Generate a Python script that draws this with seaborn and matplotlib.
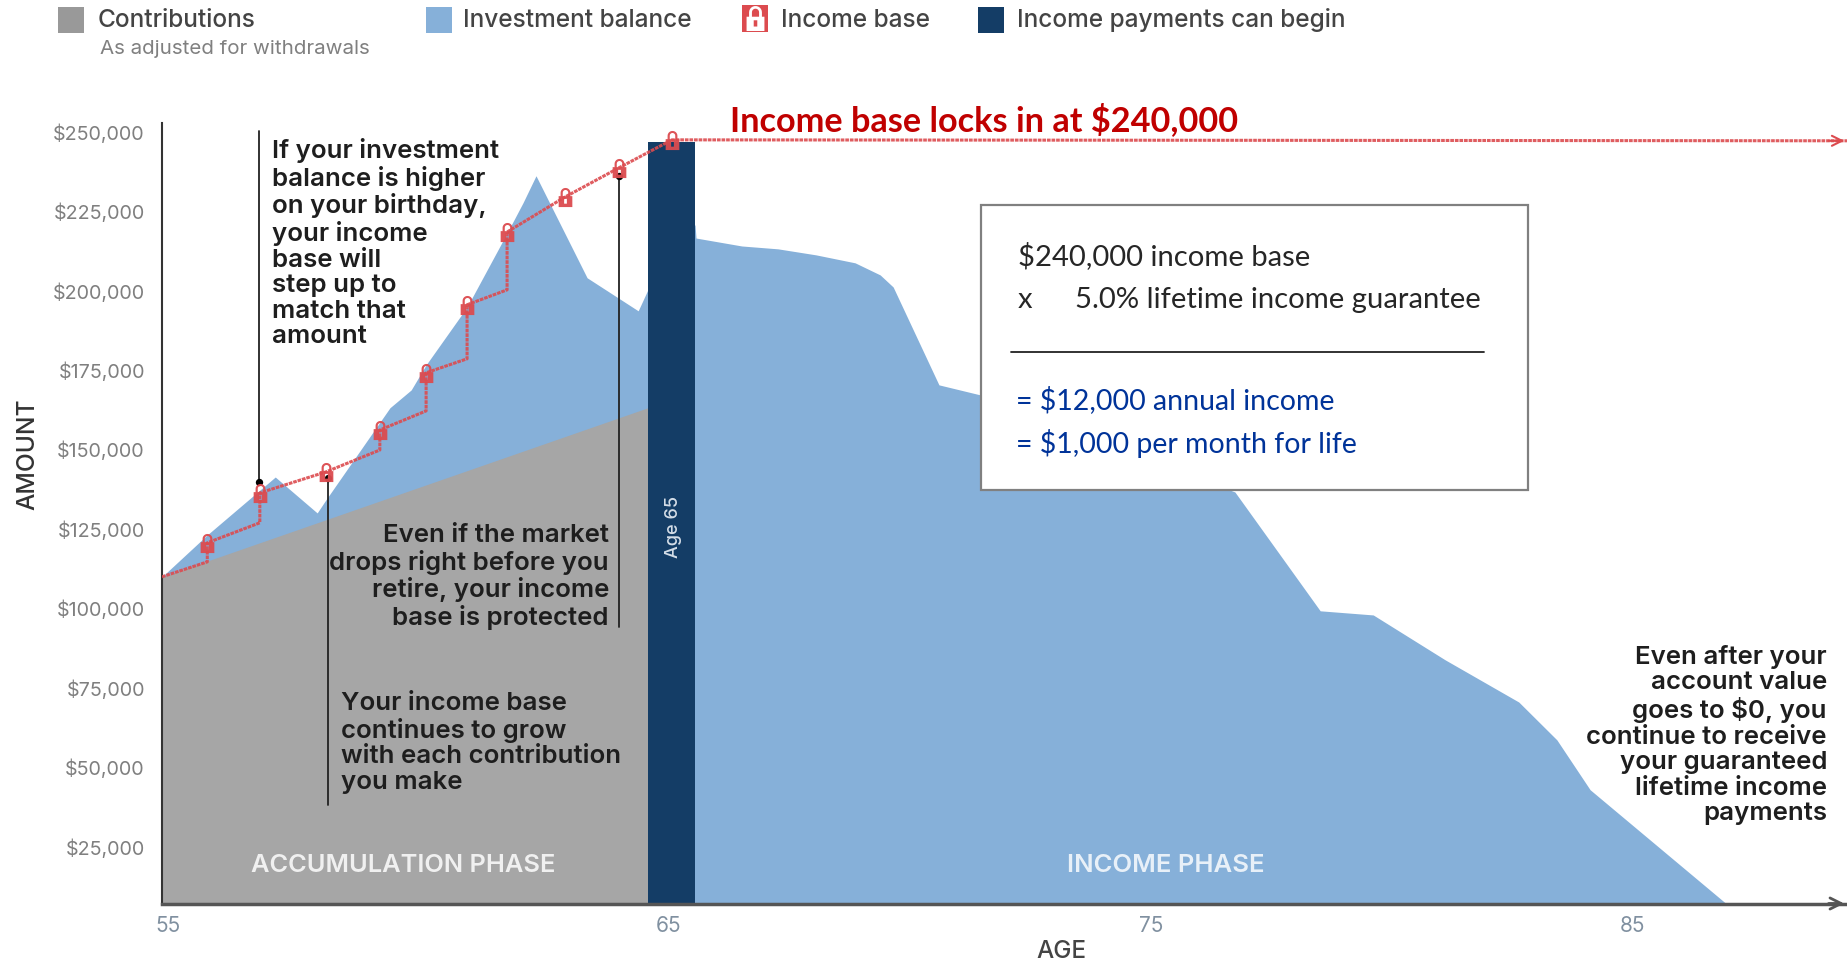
import numpy as np
import pandas as pd
import matplotlib
matplotlib.use('Agg')
import matplotlib.pyplot as plt
from matplotlib.path import Path
from matplotlib.patches import Rectangle
from matplotlib.lines import Line2D
import seaborn as sns

W, H = 1847, 961

# values (age in years, amounts in $1000)
balance_age = [54.48, 55.42, 56.83, 57.70, 57.88, 59.21, 59.65, 59.96, 60.81, 61.64, 61.97, 62.24,
               63.30, 64.36, 64.56, 65.0, 65.54, 65.56, 66.51, 67.26, 68.05, 68.86, 69.38, 69.65,
               70.60, 71.47, 76.74, 78.51, 79.61, 81.10, 82.63, 83.42, 84.11, 86.93]
balance_amt = [110.0, 123.2, 141.4, 130.1, 134.2, 163.2, 168.8, 176.7, 194.9, 218.2, 227.7, 236.2,
               204.1, 193.7, 200.3, 220.7, 220.7, 216.6, 214.1, 213.2, 211.3, 208.8, 205.0, 201.2,
               170.4, 167.2, 136.7, 99.3, 98.0, 83.9, 70.6, 58.7, 43.0, 7.2]

contrib_age = [54.48, 64.56]
contrib_amt = [110.0, 163.2]

base_age = [54.48, 55.42, 55.42, 56.51, 56.51, 57.88, 59.00, 59.00, 59.96, 59.96, 60.81, 60.81,
            61.64, 61.64, 62.84, 63.96, 65.06, 89.44]
base_amt = [110.0, 114.7, 120.7, 127.0, 136.4, 143.0, 149.9, 156.2, 162.2, 174.2, 178.6, 195.6,
            200.3, 218.5, 229.5, 238.7, 247.5, 247.2]

lock_age = [55.42, 56.51, 57.88, 59.00, 59.96, 60.81, 61.64, 62.84, 63.96, 65.06]
lock_amt = [120.7, 136.4, 143.0, 156.2, 174.2, 195.6, 218.5, 229.5, 238.7, 247.5]

bar_age = [64.56, 65.54]
bar_top = 246.9

leader_age = [56.49, 57.93, 63.96]
leader_top = [250.3, 141.1, 236.2]
leader_bottom = [139.9, 38.2, 94.2]
leader_dot = [139.9, 141.1, 236.2]

ytick_vals = [25, 50, 75, 100, 125, 150, 175, 200, 225, 250]
ytick_labels = ['$25,000', '$50,000', '$75,000', '$100,000', '$125,000', '$150,000', '$175,000',
                '$200,000', '$225,000', '$250,000']
xtick_vals = [54.6, 65, 75, 85]
xtick_labels = ['55', '65', '75', '85']

GRAY = '#A6A6A6'
BLUE = '#86B0D9'
NAVY = '#143D66'
RED = '#DC4B4F'
INK = '#1E1E1E'
TICK = '#7F7F7F'

sns.set_theme(style='white')
plt.rcParams['font.family'] = ['Inter', 'DejaVu Sans']


def fx(x):
    return x / W


def fy(y):
    return 1 - y / H


def lock_marker():
    # padlock: body with a keyhole plus an arched shackle
    body = [(-0.5, -0.7), (0.5, -0.7), (0.5, 0.1), (-0.5, 0.1), (-0.5, -0.7)]
    hole = [(-0.1, -0.45), (-0.1, -0.1), (0.1, -0.1), (0.1, -0.45), (-0.1, -0.45)]
    t = np.linspace(0, np.pi, 12)
    outer = list(zip(0.36 * np.cos(t), 0.35 + 0.35 * np.sin(t)))
    inner = list(zip(0.2 * np.cos(t[::-1]), 0.35 + 0.2 * np.sin(t[::-1])))
    shackle = [(0.36, 0.1)] + outer + [(-0.36, 0.1), (-0.2, 0.1)] + inner + [(0.2, 0.1), (0.36, 0.1)]
    verts = body + hole + shackle
    codes = []
    for part in (body, hole, shackle):
        codes += [Path.MOVETO] + [Path.LINETO] * (len(part) - 2) + [Path.CLOSEPOLY]
    return Path(verts, codes)


fig = plt.figure(figsize=(W / 100, H / 100), dpi=100)
ax = fig.add_axes([161.5 / W, 1 - 903.5 / H, (W - 161.5) / W, (903.5 - 123) / H])
ax.set_xlim(54.47, 89.44)
ax.set_ylim(7.2, 252.8)
lock = lock_marker()

# areas
ax.fill_between(balance_age, balance_amt, 7.2, color=BLUE, lw=0, zorder=1)
ax.fill_between(contrib_age, contrib_amt, 7.2, color=GRAY, lw=0, zorder=2)
ax.fill_between(bar_age, [bar_top, bar_top], 7.2, color=NAVY, lw=0, zorder=3)

# income base line and locks
base_df = pd.DataFrame({'age': base_age, 'amount': base_amt})
sns.lineplot(data=base_df, x='age', y='amount', ax=ax, color=RED, lw=2.2, sort=False, estimator=None,
             linestyle=(0, (1.2, 0.3)), alpha=0.9, zorder=5)
ax.annotate('', xy=(89.44, 247.2), xytext=(89.0, 247.2), zorder=5, annotation_clip=False,
            arrowprops=dict(arrowstyle='->', color=RED, lw=1.5, mutation_scale=18))

for a, t, b in zip(leader_age, leader_top, leader_bottom):
    ax.plot([a, a], [b, t], color='#222222', lw=1.3, zorder=4)
sns.scatterplot(x=leader_age, y=leader_dot, ax=ax, color='black', s=28, linewidth=0, zorder=6)

lock_df = pd.DataFrame({'age': lock_age, 'amount': lock_amt})
sns.scatterplot(data=lock_df, x='age', y='amount', ax=ax, marker=lock, s=190, color=RED, linewidth=0,
                alpha=0.95, zorder=7, clip_on=False)

# axes
for side in ['top', 'right']:
    ax.spines[side].set_visible(False)
ax.spines['left'].set_color('#333333')
ax.spines['left'].set_linewidth(1.5)
ax.spines['bottom'].set_color('#555555')
ax.spines['bottom'].set_linewidth(2.5)
ax.spines['bottom'].set_zorder(8)
ax.annotate('', xy=(89.44, 7.2), xytext=(89.0, 7.2), annotation_clip=False, zorder=8,
            arrowprops=dict(arrowstyle='->', color='#555555', lw=2, mutation_scale=20))
ax.set_yticks(ytick_vals, ytick_labels)
ax.set_xticks(xtick_vals, xtick_labels)
ax.tick_params(axis='y', length=0, pad=12, labelsize=14.2, labelcolor=TICK)
ax.tick_params(axis='x', length=0, pad=9, labelsize=15, labelcolor='#8090A0')
ax.set_xlabel('AGE', fontsize=17.5, color='#444444', fontweight='medium', va='center')
ax.set_ylabel('AMOUNT', fontsize=17.7, color='#333333', fontweight='medium')
ax.xaxis.set_label_coords((1061 - 161.5) / (W - 161.5), -(952 - 903.5) / (903.5 - 123))
ax.yaxis.set_label_coords(-(161.5 - 39) / (W - 161.5), (903.5 - 454) / (903.5 - 123))

# legend across the top
fig.patches.append(Rectangle((fx(58), fy(33)), 26 / W, 26 / H, transform=fig.transFigure, color='#999999', lw=0))
fig.patches.append(Rectangle((fx(426), fy(33)), 26 / W, 26 / H, transform=fig.transFigure, color=BLUE, lw=0))
fig.patches.append(Rectangle((fx(742), fy(32)), 26 / W, 27 / H, transform=fig.transFigure, color=RED, lw=0))
fig.patches.append(Rectangle((fx(978), fy(33)), 26 / W, 26 / H, transform=fig.transFigure, color=NAVY, lw=0))
fig.add_artist(Line2D([fx(755)], [fy(18)], marker=lock, markersize=18, color='white', mew=0, transform=fig.transFigure))
legend_items = [(98, 'Contributions'), (463, 'Investment balance'), (781, 'Income base'), (1017, 'Income payments can begin')]
for x, label in legend_items:
    fig.text(fx(x), fy(20.5), label, fontsize=17.6, color='#444444', va='center', fontweight='medium')
fig.text(fx(100), fy(49), 'As adjusted for withdrawals', fontsize=14.8, color='#808080', va='center')

# notes
note = dict(fontsize=18.6, color=INK, fontweight='semibold', va='center', linespacing=1.14, zorder=10)
fig.text(fx(272), fy(243), 'If your investment\nbalance is higher\non your birthday,\nyour income\nbase will\nstep up to\nmatch that\namount', ha='left', **note)
fig.text(fx(609), fy(577), 'Even if the market\ndrops right before you\nretire, your income\nbase is protected', ha='right', **note)
fig.text(fx(341), fy(743), 'Your income base\ncontinues to grow\nwith each contribution\nyou make', ha='left', **note)
fig.text(fx(1827), fy(735), 'Even after your\naccount value\ngoes to $0, you\ncontinue to receive\nyour guaranteed\nlifetime income\npayments', ha='right', **note)

fig.text(fx(403), fy(866), 'ACCUMULATION PHASE', fontsize=18.3, color='#F0F0F0', ha='center', va='center', fontweight='semibold')
fig.text(fx(1166), fy(866), 'INCOME PHASE', fontsize=18.5, color='#E8F0F8', ha='center', va='center', fontweight='semibold')
fig.text(fx(673), fy(527), 'Age 65', fontsize=13, color='#D5DEE8', ha='center', va='center', rotation=90, fontweight='medium')

# red headline and calculation box
fig.text(fx(730), fy(120), 'Income base locks in at $240,000', fontsize=24.7, color='#C00000', va='center',
         fontweight='bold', family=['Lato', 'DejaVu Sans'])
box = Rectangle((fx(981), fy(490)), 547 / W, 285 / H, transform=fig.transFigure, facecolor='white',
                edgecolor='#808080', lw=1.6, zorder=20)
fig.add_artist(box)
fig.add_artist(Line2D([fx(1011), fx(1484)], [fy(352), fy(352)], color='#222222', lw=1.3, transform=fig.transFigure, zorder=21))
calc = dict(va='center', family=['Lato', 'DejaVu Sans'], zorder=22)
fig.text(fx(1018), fy(256), '$240,000 income base', color='#262626', fontsize=21.1, **calc)
fig.text(fx(1018), fy(300), 'x', color='#262626', fontsize=21.1, **calc)
fig.text(fx(1075), fy(300), '5.0% lifetime income guarantee', color='#262626', fontsize=21.1, **calc)
fig.text(fx(1016), fy(400), '= $12,000 annual income', color='#003399', fontsize=20.5, **calc)
fig.text(fx(1016), fy(443), '= $1,000 per month for life', color='#003399', fontsize=20.5, **calc)

fig.savefig('out.png', dpi=100)
